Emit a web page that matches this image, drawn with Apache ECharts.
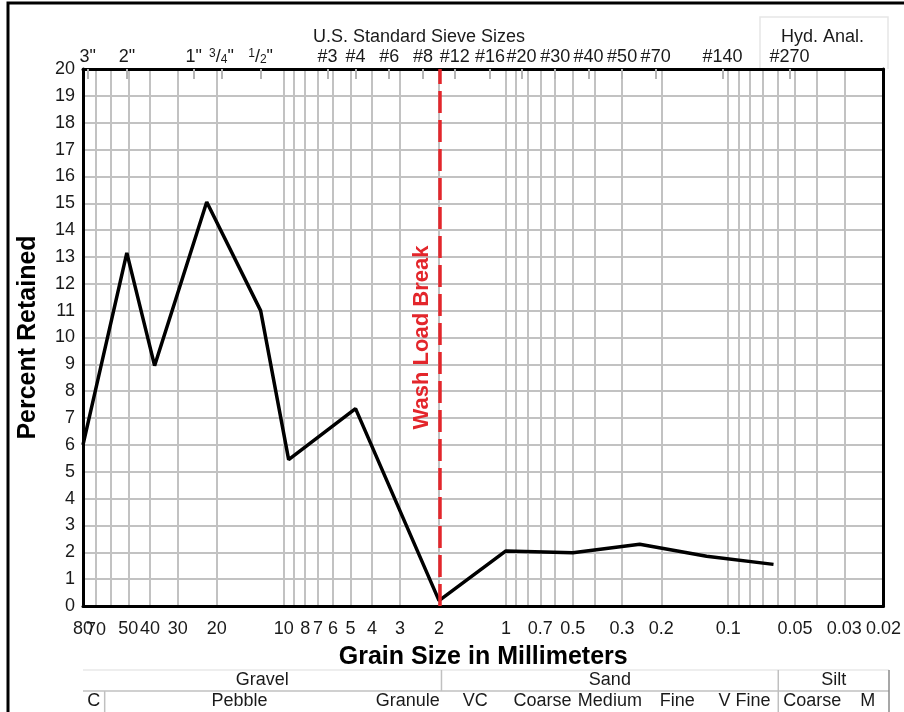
<!DOCTYPE html>
<html>
<head>
<meta charset="utf-8">
<script src="https://cdn.jsdelivr.net/npm/echarts@6/dist/echarts.min.js"></script>
<style>
  html, body { margin: 0; padding: 0; background: #fff; }
  #chart { width: 904px; height: 712px; }
</style>
</head>
<body>
<div id="chart"></div>
<script>
// grain size (mm) vs percent retained
const grainSizes = [80, 50.8, 38.1, 22.2, 12.7, 9.5, 4.75, 2, 1, 0.5, 0.25, 0.125, 0.0625];
const percentRetained = [6.0, 13.15, 8.95, 15.05, 11.0, 5.45, 7.35, 0.2, 2.05, 1.98, 2.3, 1.85, 1.55];

// bottom axis labels and grid lines (mm)
const sizeTicks = [80, 70, 50, 40, 30, 20, 10, 8, 7, 6, 5, 4, 3, 2, 1, 0.7, 0.5, 0.3, 0.2, 0.1, 0.05, 0.03, 0.02];
const gridSizes = [70, 60, 50, 40, 30, 20, 10, 9, 8, 7, 6, 5, 4, 3, 2, 1, 0.9, 0.8, 0.7, 0.6, 0.5, 0.4,
  0.3, 0.2, 0.1, 0.09, 0.08, 0.07, 0.06, 0.05, 0.04, 0.03];

// top axis: US standard sieves
const sieveSizes = [76.2, 50.8, 25.4, 19.05, 12.7, 6.35, 4.75, 3.35, 2.36, 1.7, 1.18, 0.85, 0.6, 0.425, 0.3, 0.212, 0.106, 0.053];
const sieveLabels = ['3"', '2"', '1"', '3/4"', '1/2"', '#3', '#4', '#6', '#8', '#12', '#16', '#20', '#30', '#40', '#50', '#70', '#140', '#270'];

const washLoadBreak = 2;

// classification table under the chart
const gradeNames = ['Gravel', 'Sand', 'Silt'];
const gradeBounds = [[80, 2], [2, 0.0625], [0.0625, 0.02]];
const classNames = ['C', 'Pebble', 'Granule', 'VC', 'Coarse', 'Medium', 'Fine', 'V Fine', 'Coarse', 'M'];
const classBounds = [[80, 64], [64, 4], [4, 2], [2, 1], [1, 0.5], [0.5, 0.25], [0.25, 0.125], [0.125, 0.0625], [0.0625, 0.031], [0.031, 0.02]];
const tableRules = [[80, 0, 0.02, 0], [80, 1, 0.02, 1], [64, 1, 64, 2], [2, 0, 2, 1], [0.0625, 0, 0.0625, 2], [0.02, 0, 0.02, 2]];

const FONT = "'Liberation Sans', Arial, sans-serif";
const lg = Math.log10;

function labelFor(values, labels) {
  return function (v) {
    for (let i = 0; i < values.length; i++) {
      if (Math.abs(lg(values[i]) - v) < 1e-6) {
        const s = labels[i];
        const m = s.match(/^(\d)\/(\d)(.*)$/);
        if (m) {
          return '{sup|' + m[1] + '}/{sub|' + m[2] + '}' + m[3];
        }
        return s;
      }
    }
    return '';
  };
}

// the 70 label overlaps 80 and echarts drops it, so it goes on a second axis
const crowdedTicks = [70];
const mainTicks = sizeTicks.filter(v => crowdedTicks.indexOf(v) < 0);
const tickText = labelFor(sizeTicks, sizeTicks.map(String));

const tableNames = gradeNames.concat(classNames);
const tableCells = gradeBounds.map(b => [lg(b[0]), lg(b[1]), 0])
  .concat(classBounds.map(b => [lg(b[0]), lg(b[1]), 1]));

const chart = echarts.init(document.getElementById('chart'));
chart.setOption({
  animation: false,
  textStyle: { fontFamily: FONT },
  grid: [
    { left: 83, top: 69, width: 806, height: 537 },
    { left: 83, top: 670, width: 806, height: 42 }
  ],
  xAxis: [
    {
      type: 'value', gridIndex: 0, position: 'bottom',
      min: lg(0.02), max: lg(80), inverse: true,
      axisLine: { onZero: false, lineStyle: { color: '#000', width: 3 } },
      axisTick: { show: false, customValues: gridSizes.map(lg) },
      splitLine: { show: true, lineStyle: { color: '#c2c2c2', width: 2 } },
      axisLabel: {
        customValues: mainTicks.map(lg),
        formatter: tickText,
        fontSize: 18, color: '#1a1a1a', margin: 14,
        showMinLabel: true, showMaxLabel: true, hideOverlap: false
      },
      name: 'Grain Size in Millimeters',
      nameLocation: 'middle', nameGap: 39,
      nameTextStyle: { fontSize: 25, fontWeight: 'bold', color: '#000' }
    },
    {
      type: 'value', gridIndex: 0, position: 'top',
      min: lg(0.02), max: lg(80), inverse: true,
      axisLine: { onZero: false, lineStyle: { color: '#000', width: 3 } },
      axisTick: {
        show: true, inside: true, length: 10,
        customValues: sieveSizes.map(lg),
        lineStyle: { color: '#b5b5b5', width: 2 }
      },
      splitLine: { show: false },
      axisLabel: {
        customValues: sieveSizes.map(lg),
        formatter: labelFor(sieveSizes, sieveLabels),
        fontSize: 18, color: '#1a1a1a', margin: 3,
        showMinLabel: true, showMaxLabel: true, hideOverlap: false,
        rich: {
          sup: { fontSize: 12, verticalAlign: 'top', lineHeight: 12, color: '#1a1a1a' },
          sub: { fontSize: 12, verticalAlign: 'bottom', lineHeight: 12, color: '#1a1a1a' }
        }
      }
    },
    {
      type: 'value', gridIndex: 1, position: 'top',
      min: lg(0.02), max: lg(80), inverse: true,
      axisLine: { show: false, onZero: false },
      axisTick: { show: false },
      splitLine: { show: false },
      axisLabel: {
        customValues: crowdedTicks.map(lg),
        formatter: tickText,
        fontSize: 18, color: '#1a1a1a', margin: 31, hideOverlap: false
      }
    }
  ],
  yAxis: [
    {
      type: 'value', gridIndex: 0, position: 'left', min: 0, max: 20, interval: 1,
      axisLine: { show: true, onZero: false, lineStyle: { color: '#000', width: 3 } },
      axisTick: { show: false },
      axisLabel: { fontSize: 18, color: '#1a1a1a', margin: 8 },
      splitLine: { show: true, lineStyle: { color: '#c2c2c2', width: 2 } },
      name: 'Percent Retained',
      nameLocation: 'middle', nameGap: 42,
      nameTextStyle: { fontSize: 25, fontWeight: 'bold', color: '#000' }
    },
    {
      type: 'value', gridIndex: 0, position: 'right', min: 0, max: 20, interval: 1,
      axisLine: { show: true, onZero: false, lineStyle: { color: '#000', width: 3 } },
      axisTick: { show: false }, axisLabel: { show: false }, splitLine: { show: false }
    },
    {
      type: 'value', gridIndex: 1, min: 0, max: 2, inverse: true, show: false
    }
  ],
  graphic: [
    {
      type: 'polyline', silent: true,
      shape: { points: [[8, 712], [8, 3], [904, 3]] },
      style: { stroke: '#000', lineWidth: 3, fill: null }
    },
    {
      type: 'polyline', silent: true,
      shape: { points: [[760, 69], [760, 17], [888, 17], [888, 69]] },
      style: { stroke: '#e6e6e6', lineWidth: 1.5, fill: null }
    },
    {
      type: 'text', left: 313, top: 28, silent: true,
      style: { text: 'U.S. Standard Sieve Sizes', fontSize: 18, fontFamily: FONT, fill: '#1a1a1a' }
    },
    {
      type: 'text', left: 781, top: 28, silent: true,
      style: { text: 'Hyd. Anal.', fontSize: 18, fontFamily: FONT, fill: '#1a1a1a' }
    }
  ],
  series: [
    {
      type: 'line', xAxisIndex: 0, yAxisIndex: 0, z: 3,
      data: grainSizes.map((s, i) => [lg(s), percentRetained[i]]),
      symbol: 'none',
      lineStyle: { color: '#000', width: 3.5 },
      markLine: {
        silent: true, symbol: ['none', 'none'],
        data: [{ xAxis: lg(washLoadBreak) }],
        lineStyle: { color: '#e3262b', width: 3.5, type: [22, 7] },
        label: {
          show: true, position: 'insideMiddleTop', distance: 6,
          formatter: 'Wash Load Break',
          fontSize: 22, fontWeight: 'bold', color: '#e3262b', fontFamily: FONT
        }
      }
    },
    {
      type: 'custom', xAxisIndex: 2, yAxisIndex: 2, silent: true, clip: false,
      data: tableCells,
      encode: { x: [0, 1], y: 2 },
      renderItem: function (params, api) {
        const p = api.coord([(api.value(0) + api.value(1)) / 2, api.value(2) + 0.5]);
        return {
          type: 'text', x: p[0], y: p[1],
          style: {
            text: tableNames[params.dataIndex],
            align: 'center', verticalAlign: 'middle',
            fontSize: 18, fontFamily: FONT, fill: '#1a1a1a'
          }
        };
      }
    },
    {
      type: 'custom', xAxisIndex: 2, yAxisIndex: 2, silent: true, clip: false,
      data: tableRules.map(r => [lg(r[0]), r[1], lg(r[2]), r[3]]),
      encode: { x: [0, 2], y: [1, 3] },
      renderItem: function (params, api) {
        const a = api.coord([api.value(0), api.value(1)]);
        const b = api.coord([api.value(2), api.value(3)]);
        const horizontal = api.value(1) === api.value(3);
        const top = horizontal && api.value(1) === 0;
        const edge = !horizontal && api.value(0) === lg(0.02);
        return {
          type: 'line',
          shape: { x1: a[0], y1: a[1], x2: b[0], y2: b[1] },
          style: {
            stroke: top ? '#e8e8e8' : (edge ? '#8a8a8a' : '#c0c0c0'),
            lineWidth: 1.5
          }
        };
      }
    }
  ]
});
</script>
</body>
</html>
